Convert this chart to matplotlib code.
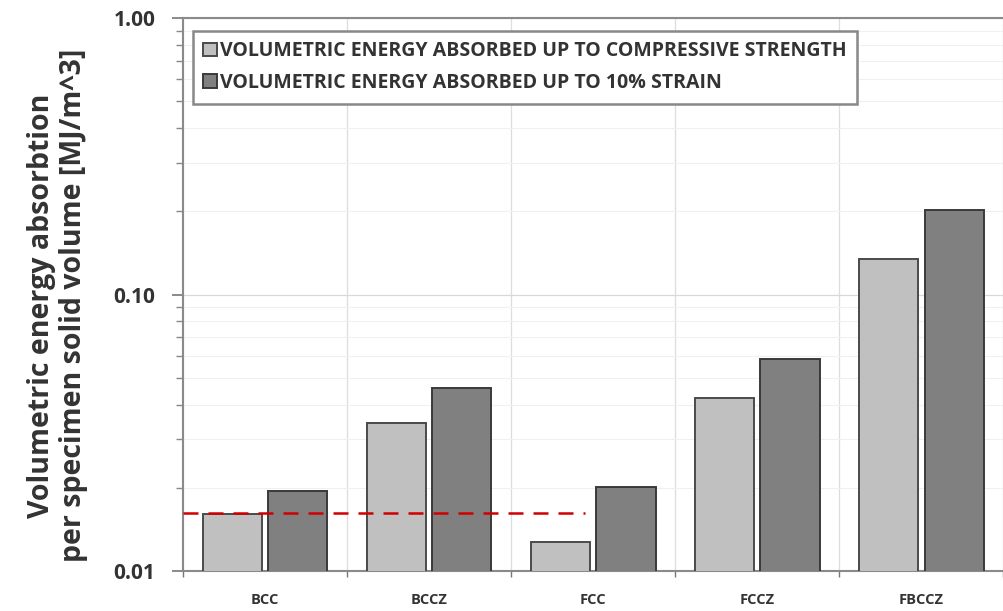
import numpy as np
import matplotlib
matplotlib.use("Agg")
from matplotlib import pyplot as plt
from matplotlib.ticker import LogLocator, FixedLocator, NullFormatter

# data
categories = ["BCC", "BCCZ", "FCC", "FCCZ", "FBCCZ"]
energy_compressive = [0.0161, 0.0344, 0.0127, 0.0421, 0.134]
energy_10pct = [0.0194, 0.0458, 0.0201, 0.0584, 0.202]
legend_labels = ["VOLUMETRIC ENERGY ABSORBED UP TO COMPRESSIVE STRENGTH",
                 "VOLUMETRIC ENERGY ABSORBED UP TO 10% STRAIN"]
ref_level = 0.0162  # red dashed reference (BCC compressive)
ytick_vals = [0.01, 0.1, 1.0]
ytick_labels = ["0.01", "0.10", "1.00"]

plt.rcParams["font.family"] = ["Open Sans", "DejaVu Sans"]

fig = plt.figure(figsize=(10.04, 6.11), dpi=100)
ax = fig.add_axes([0.1823, 0.0655, 0.817, 0.905])

x = np.arange(len(categories))
w = 0.36
ax.bar(x - 0.2, energy_compressive, w, color="#c0c0c0", edgecolor="#4a4a4a",
       linewidth=1.4, label=legend_labels[0], zorder=3)
ax.bar(x + 0.2, energy_10pct, w, color="#808080", edgecolor="#3a3a3a",
       linewidth=1.4, label=legend_labels[1], zorder=3)

ax.plot([-0.5, 1.95], [ref_level, ref_level], color="#d00000", lw=1.8,
        dashes=(6, 4), zorder=4)

ax.set_yscale("log")
ax.set_ylim(0.01, 1.0)
ax.set_xlim(-0.5, 4.47)

ax.yaxis.set_major_locator(FixedLocator(ytick_vals))
ax.set_yticklabels(ytick_labels, fontsize=15, fontweight="bold", color="#333333")
ax.yaxis.set_minor_locator(LogLocator(base=10, subs=np.arange(2, 10)))
ax.yaxis.set_minor_formatter(NullFormatter())
ax.tick_params(axis="y", which="major", length=8, width=1.2, color="#777777", direction="out", pad=12)
ax.tick_params(axis="y", which="minor", length=5, width=1.0, color="#888888", direction="out")

# category labels at centers, ticks at boundaries
ax.set_xticks(np.arange(-0.5, 4.6, 1.0))
ax.set_xticklabels([])
ax.set_xticks(x, minor=True)
ax.set_xticklabels(categories, minor=True, fontsize=10.5, fontweight="bold", color="#333333")
ax.tick_params(axis="x", which="minor", length=0, pad=16)
ax.tick_params(axis="x", which="major", length=4, width=1.0, color="#777777", direction="out")

ax.grid(True, axis="x", which="major", color="#dddddd", lw=0.9, zorder=0)
ax.grid(True, axis="y", which="major", color="#d8d8d8", lw=0.9, zorder=0)
ax.grid(True, axis="y", which="minor", color="#f0f0f0", lw=0.8, zorder=0)

for side in ["left", "bottom", "top", "right"]:
    ax.spines[side].set_color("#8a8a8a")
    ax.spines[side].set_linewidth(1.5)
ax.spines["right"].set_visible(False)

leg = ax.legend(loc="upper left", bbox_to_anchor=(0.0, 0.995), fancybox=False,
                edgecolor="#888888", framealpha=1, handlelength=0.7, handleheight=0.7,
                handletextpad=0.15, borderpad=0.55, labelspacing=0.6,
                prop={"weight": "bold", "size": 14})
leg.get_frame().set_linewidth(1.8)
for t in leg.get_texts():
    t.set_color("#333333")

fig.text(0.057, 0.5, "Volumetric energy absorbtion\nper specimen solid volume [MJ/m^3]",
         rotation=90, ha="center", va="center", fontsize=20.5, fontweight="bold",
         color="#333333", linespacing=1.15)

fig.savefig("out.png", dpi=100)
